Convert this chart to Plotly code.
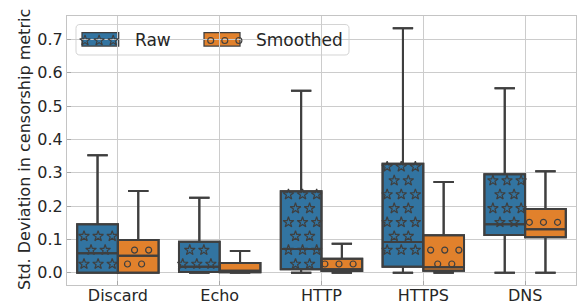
import plotly.graph_objects as go

# ---------------- data ----------------
categories = ["Discard", "Echo", "HTTP", "HTTPS", "DNS"]

raw_lower = [0.0, 0.0, 0.0, 0.0, 0.0]
raw_q1 = [0.0, 0.002, 0.010, 0.018, 0.113]
raw_median = [0.058, 0.018, 0.071, 0.092, 0.145]
raw_q3 = [0.145, 0.093, 0.244, 0.327, 0.295]
raw_upper = [0.352, 0.225, 0.546, 0.733, 0.553]

sm_lower = [0.0, 0.0, 0.0, 0.0, 0.0]
sm_q1 = [0.0, 0.001, 0.005, 0.006, 0.106]
sm_median = [0.051, 0.006, 0.010, 0.016, 0.130]
sm_q3 = [0.098, 0.029, 0.042, 0.112, 0.191]
sm_upper = [0.245, 0.065, 0.087, 0.272, 0.304]

series_names = ["Raw", "Smoothed"]
y_ticks = [0.0, 0.1, 0.2, 0.3, 0.4, 0.5, 0.6, 0.7]

# ---------------- layout geometry ----------------
W, H = 578, 306
ML, MR, MT, MB = 67, 2, 16, 21
PW, PH = W - ML - MR, H - MT - MB
XR = [-0.5, 4.5]
YR = [-0.037, 0.770]

BLUE = "#3274a1"
ORANGE = "#e1812c"
EDGE = "#3f3f3f"
TXT = "#262626"
FONT = "DejaVu Sans"
BOXW = 0.4
SX, SY = 14.1, 13.9   # hatch pitch in pixels


def x2px(x):
    return ML + (x - XR[0]) / (XR[1] - XR[0]) * PW


def y2px(y):
    return MT + (YR[1] - y) / (YR[1] - YR[0]) * PH


def px2x(px):
    return XR[0] + (px - ML) / PW * (XR[1] - XR[0])


def py2y(py):
    return YR[1] - (py - MT) / PH * (YR[1] - YR[0])


def hatch_points(left, right, top, bottom, ax0, ay0, margin):
    """Staggered hatch grid (pixel space) inside a rectangle -> data coords."""
    xs, ys = [], []
    kmin = int((ay0 - bottom) / SY) - 2
    kmax = int((ay0 - top) / SY) + 2
    for k in range(kmin, kmax + 1):
        py = ay0 - k * SY
        if py < top + margin or py > bottom - margin:
            continue
        off = 0 if k % 2 == 0 else -SX / 2
        jmin = int((left - ax0) / SX) - 2
        jmax = int((right - ax0) / SX) + 2
        for j in range(jmin, jmax + 1):
            px = ax0 + off + j * SX
            if left + margin <= px <= right - margin:
                xs.append(px2x(px))
                ys.append(py2y(py))
    return xs, ys


fig = go.Figure()

pos_raw = [i - BOXW / 2 for i in range(len(categories))]
pos_sm = [i + BOXW / 2 for i in range(len(categories))]

series = [
    (pos_raw, raw_lower, raw_q1, raw_median, raw_q3, raw_upper, BLUE, "star-open", 8, (84.0, 264.0)),
    (pos_sm, sm_lower, sm_q1, sm_median, sm_q3, sm_upper, ORANGE, "circle-open", 6, (127.5, 264.0)),
]

# filled boxes
for name, (pos, lo, q1, med, q3, up, col, sym, msz, anc) in zip(series_names, series):
    fig.add_trace(go.Box(
        x=pos, q1=q1, median=med, q3=q3, lowerfence=lo, upperfence=up,
        width=BOXW, fillcolor=col, line=dict(color=EDGE, width=2),
        whiskerwidth=0.5, boxpoints=False, name=name, showlegend=False,
        hoverinfo="skip",
    ))

# hatch markers
for name, (pos, lo, q1, med, q3, up, col, sym, msz, anc) in zip(series_names, series):
    hx, hy = [], []
    for p, a, b in zip(pos, q1, q3):
        l, r = x2px(p - BOXW / 2), x2px(p + BOXW / 2)
        t, btm = y2px(b), y2px(a)
        xs, ys = hatch_points(l, r, t, btm, anc[0], anc[1], 3)
        hx += xs
        hy += ys
    fig.add_trace(go.Scatter(
        x=hx, y=hy, mode="markers", showlegend=False, hoverinfo="skip",
        marker=dict(symbol=sym, size=msz, color=EDGE, line=dict(width=1.2, color=EDGE)),
    ))

# outlines on top of hatches
for name, (pos, lo, q1, med, q3, up, col, sym, msz, anc) in zip(series_names, series):
    fig.add_trace(go.Box(
        x=pos, q1=q1, median=med, q3=q3, lowerfence=lo, upperfence=up,
        width=BOXW, fillcolor="rgba(0,0,0,0)", line=dict(color=EDGE, width=2),
        whiskerwidth=0.5, boxpoints=False, showlegend=False, hoverinfo="skip",
    ))

# ---------------- custom legend ----------------
def px2paper_x(px):
    return (px - ML) / PW


def py2paper_y(py):
    return (H - MB - py) / PH


lx0, lx1, ly0, ly1, rad = 76.0, 349.0, 24.5, 55.0, 4.0


def P(px, py):
    return f"{px2paper_x(px):.5f},{py2paper_y(py):.5f}"


frame = (
    f"M {P(lx0 + rad, ly0)} L {P(lx1 - rad, ly0)} Q {P(lx1, ly0)} {P(lx1, ly0 + rad)} "
    f"L {P(lx1, ly1 - rad)} Q {P(lx1, ly1)} {P(lx1 - rad, ly1)} "
    f"L {P(lx0 + rad, ly1)} Q {P(lx0, ly1)} {P(lx0, ly1 - rad)} "
    f"L {P(lx0, ly0 + rad)} Q {P(lx0, ly0)} {P(lx0 + rad, ly0)} Z"
)
shapes = [dict(type="path", path=frame, xref="paper", yref="paper", layer="between",
               fillcolor="rgba(255,255,255,0.8)", line=dict(color="#d4d4d4", width=1))]

legend_items = [
    (series_names[0], BLUE, "star-open", 8, 82.0, 118.7, (85.0, 40.5), 132.5),
    (series_names[1], ORANGE, "circle-open", 6, 204.0, 240.0, (210.7, 40.5), 254.0),
]
pt, pb = 32.5, 46.0
annotations = []
for name, col, sym, msz, px0, px1, anc, tx in legend_items:
    shapes.append(dict(type="rect", xref="paper", yref="paper", layer="between",
                       x0=px2paper_x(px0), x1=px2paper_x(px1),
                       y0=py2paper_y(pb), y1=py2paper_y(pt),
                       fillcolor=col, line=dict(color=EDGE, width=1.25)))
    xs, ys = [], []
    for k in range(3):
        xs.append(px2x(anc[0] + k * SX))
        ys.append(py2y(anc[1]))
    fig.add_trace(go.Scatter(
        x=xs, y=ys, mode="markers", showlegend=False, hoverinfo="skip",
        marker=dict(symbol=sym, size=msz, color=EDGE, line=dict(width=1.1, color=EDGE)),
    ))
    annotations.append(dict(x=px2paper_x(tx), y=py2paper_y(39.5), xref="paper", yref="paper",
                            text=name, showarrow=False, xanchor="left", yanchor="middle",
                            font=dict(family=FONT, size=17, color=TXT)))

# y-axis title as annotation (precise placement)
annotations.append(dict(x=px2paper_x(24), y=py2paper_y(150), xref="paper", yref="paper",
                        text="Std. Deviation in censorship metric", showarrow=False,
                        textangle=-90, xanchor="center", yanchor="middle",
                        font=dict(family=FONT, size=16, color=TXT)))

fig.update_layout(
    width=W, height=H,
    margin=dict(l=ML, r=MR, t=MT, b=MB, pad=0),
    paper_bgcolor="white", plot_bgcolor="white",
    boxmode="overlay",
    showlegend=False,
    shapes=shapes,
    annotations=annotations,
    font=dict(family=FONT, size=16, color=TXT),
    xaxis=dict(
        range=XR, tickvals=list(range(len(categories))), ticktext=categories,
        showgrid=True, gridcolor="#cccccc", gridwidth=1, zeroline=False,
        showline=True, linecolor="#c4c4c4", linewidth=1.25, mirror=True,
        ticks="inside", ticklen=4, tickcolor="#a8a8a8", tickwidth=1.25,
        tickfont=dict(family=FONT, size=16, color=TXT),
        automargin=False, ticklabelstandoff=-4,
    ),
    yaxis=dict(
        range=YR, tickvals=y_ticks, tickformat=".1f",
        showgrid=True, gridcolor="#cccccc", gridwidth=1, zeroline=False,
        showline=True, linecolor="#c4c4c4", linewidth=1.25, mirror=True,
        ticks="inside", ticklen=4, tickcolor="#a8a8a8", tickwidth=1.25,
        tickfont=dict(family=FONT, size=16, color=TXT),
        automargin=False,
    ),
)

fig.write_html(
    "out.html",
    config={"displayModeBar": False},
    post_script="document.body.style.margin='0px';document.body.style.overflow='hidden';",
)
